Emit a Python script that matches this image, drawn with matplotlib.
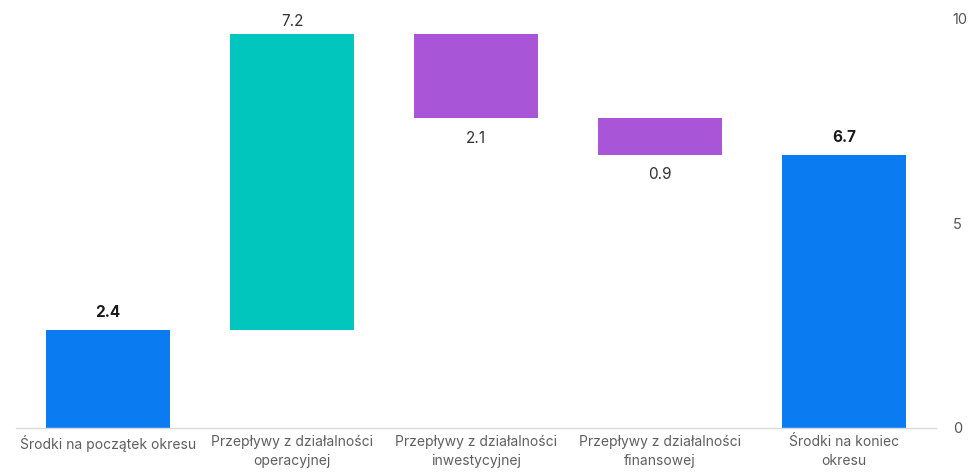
import matplotlib.pyplot as plt
import numpy as np

plt.rcParams['font.family'] = ['Inter', 'DejaVu Sans']

# data
categories = ['Środki na początek okresu',
              'Przepływy z działalności\noperacyjnej',
              'Przepływy z działalności\ninwestycyjnej',
              'Przepływy z działalności\nfinansowej',
              'Środki na koniec\nokresu']
changes = [2.4, 7.2, -2.05, -0.89, 6.66]
kinds = ['total', 'delta', 'delta', 'delta', 'total']
value_labels = ['2.4', '7.2', '2.1', '0.9', '6.7']
y_ticks = [0, 5, 10]

COLOR_TOTAL = '#0a7bf0'
COLOR_UP = '#00c6be'
COLOR_DOWN = '#a855d8'

fig = plt.figure(figsize=(9.71, 4.75), dpi=100)
ax = fig.add_axes([0.0165, 0.099, 0.9475, 0.863])

running = 0.0
for i, (val, kind, lab) in enumerate(zip(changes, kinds, value_labels)):
    if kind == 'total':
        bottom, height = 0, val
        running = val
        color = COLOR_TOTAL
    else:
        bottom = running
        height = val
        running += val
        color = COLOR_UP if val > 0 else COLOR_DOWN
    ax.bar(i, height, bottom=bottom, width=0.67, color=color, linewidth=0)
    top = max(bottom, bottom + height)
    low = min(bottom, bottom + height)
    if kind == 'total':
        ax.annotate(lab, (i, top), xytext=(0, 7), textcoords='offset points',
                    ha='center', va='bottom', fontsize=11, fontweight='bold',
                    color='#1a1a1a')
    elif val > 0:
        ax.annotate(lab, (i, top), xytext=(0, 4), textcoords='offset points',
                    ha='center', va='bottom', fontsize=11, color='#333333')
    else:
        ax.annotate(lab, (i, low), xytext=(0, -9), textcoords='offset points',
                    ha='center', va='top', fontsize=11, color='#333333')

ax.set_xlim(-0.5, len(categories) - 0.5)
ax.set_ylim(0, 10)
ax.set_xticks(np.arange(len(categories)))
ax.set_xticklabels(categories, fontsize=10, color='#5f5f5f', linespacing=1.45)
ax.yaxis.tick_right()
ax.set_yticks(y_ticks)
ax.set_yticklabels([str(t) for t in y_ticks], fontsize=10.5, color='#555555')
ax.tick_params(axis='both', length=0)
ax.tick_params(axis='y', pad=12)
ax.tick_params(axis='x', pad=5)
for side in ['top', 'right', 'left']:
    ax.spines[side].set_visible(False)
ax.spines['bottom'].set_color('#d9d9d9')
ax.spines['bottom'].set_linewidth(1)

fig.savefig('out.png', dpi=100)
